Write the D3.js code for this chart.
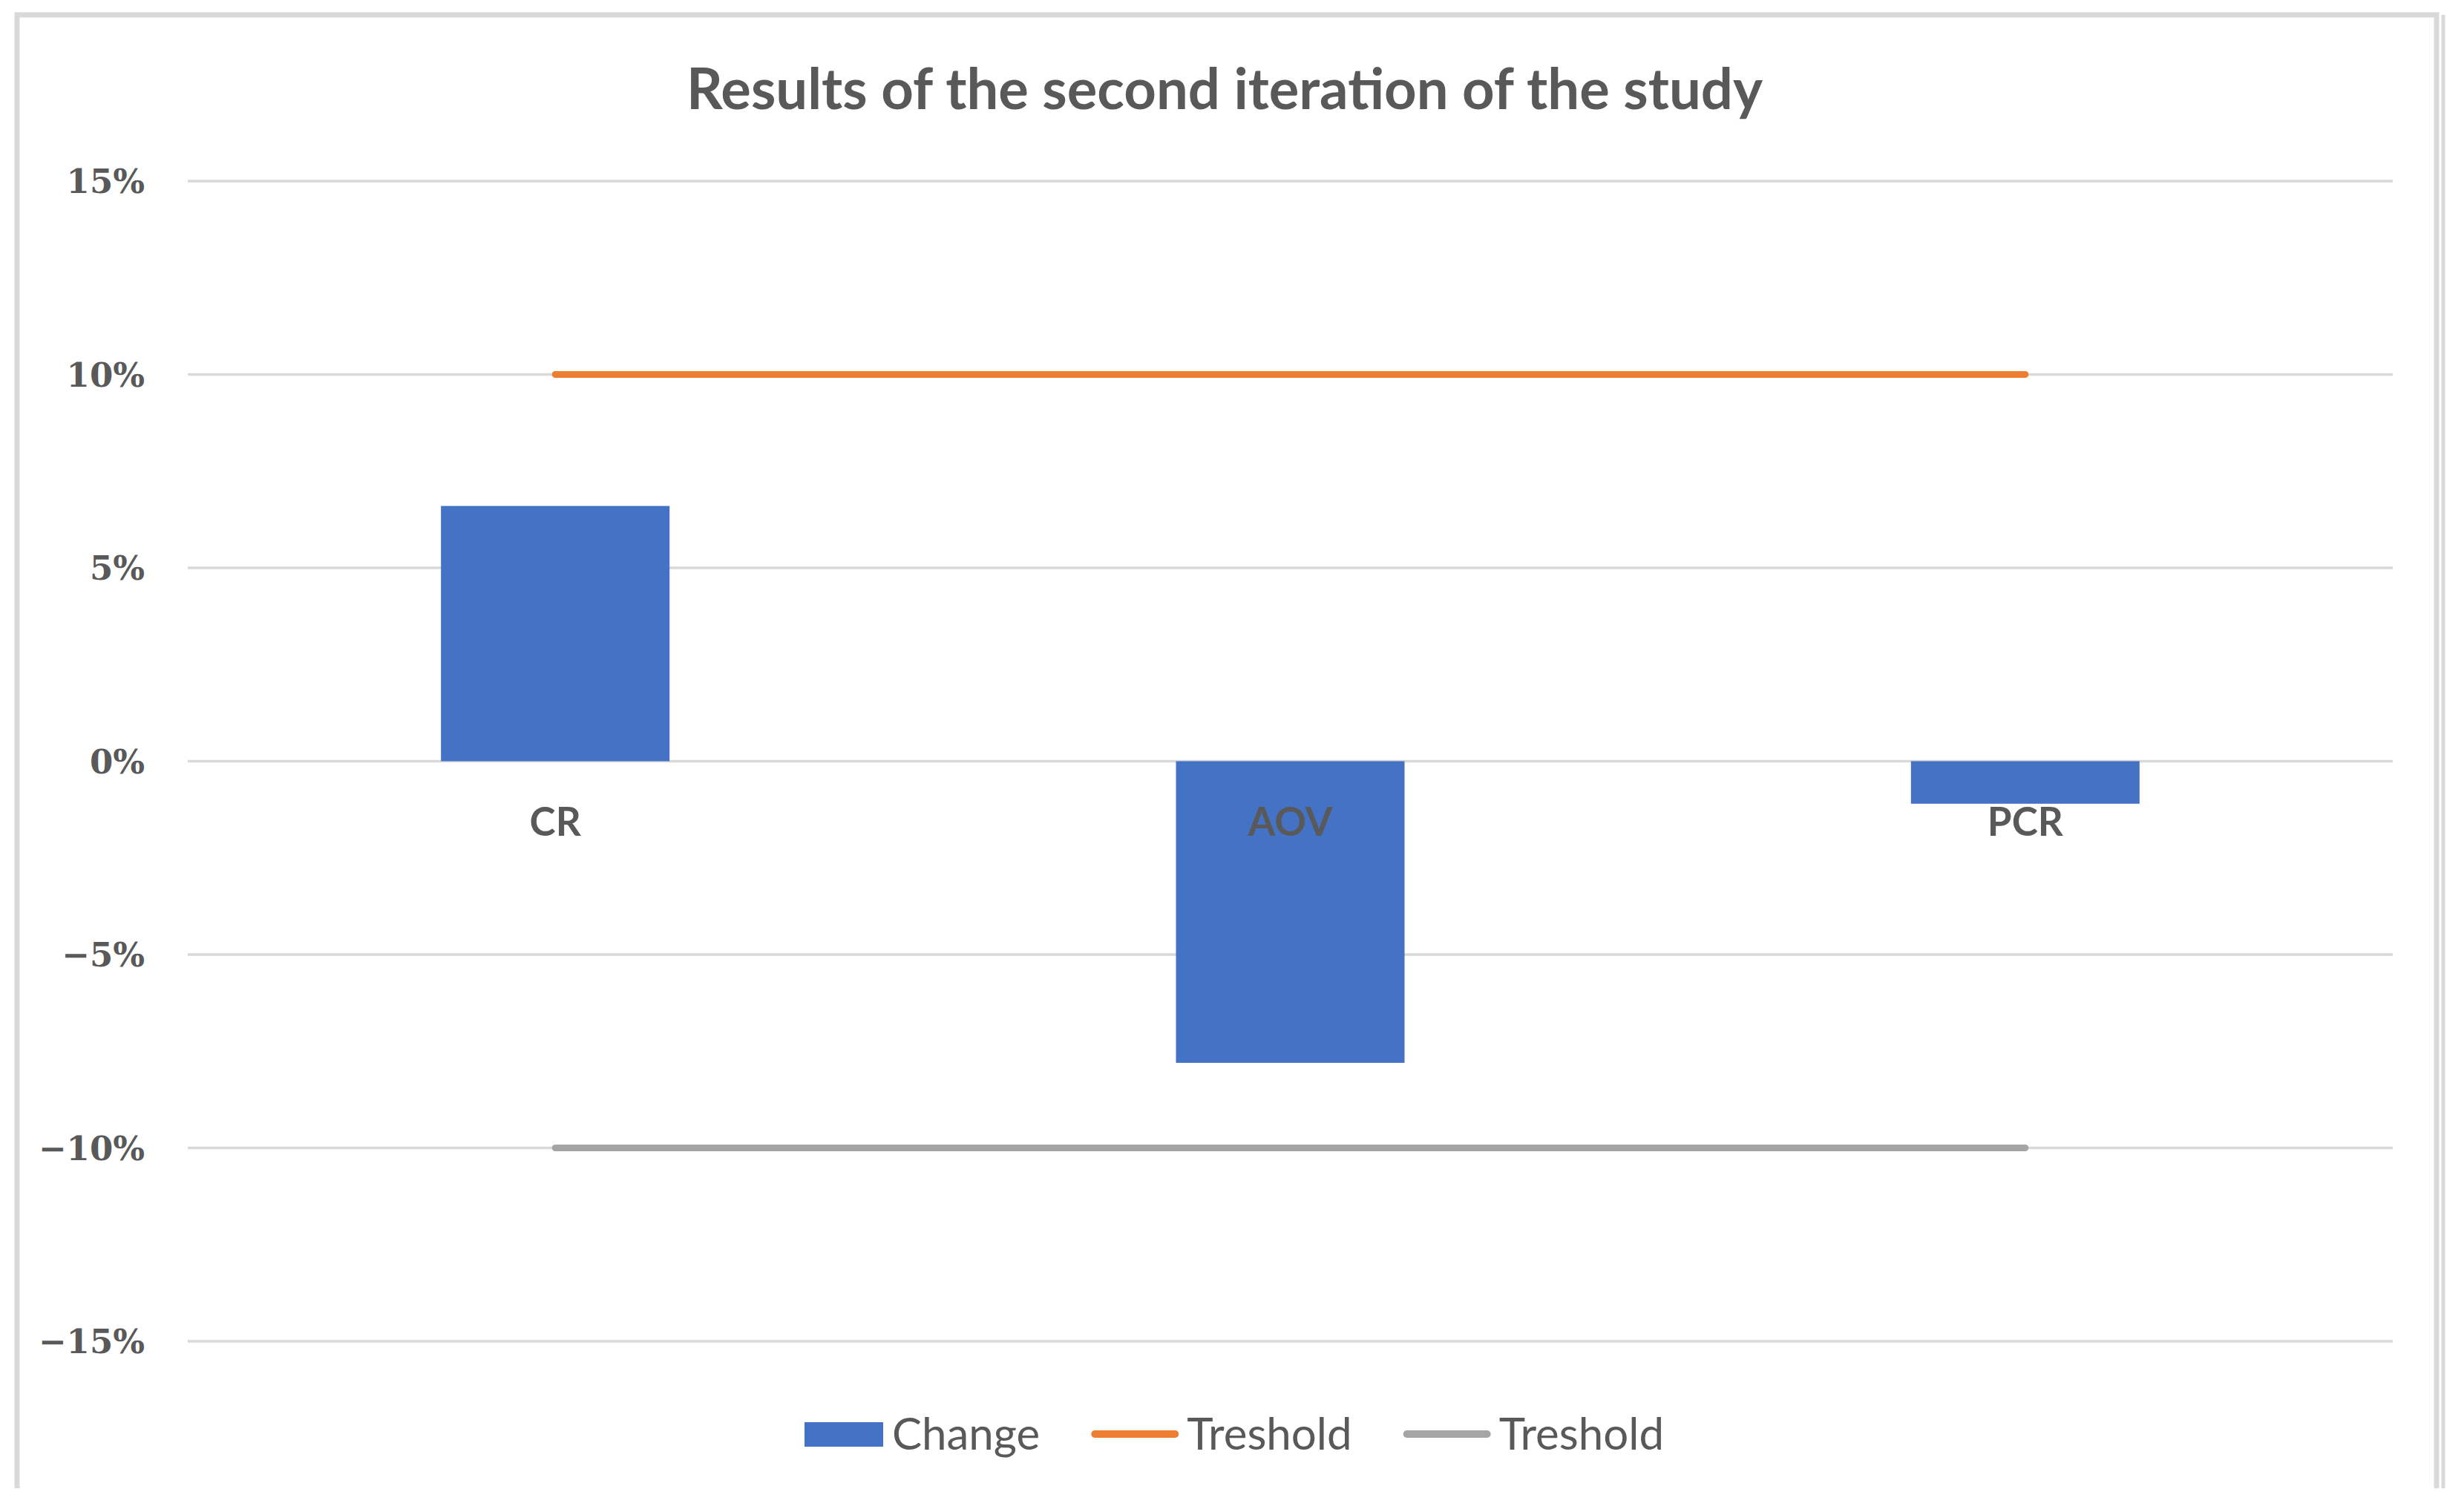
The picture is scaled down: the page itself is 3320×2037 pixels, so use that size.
<!DOCTYPE html>
<html><head><meta charset="utf-8">
<script src="https://cdn.jsdelivr.net/npm/d3@7"></script>
<style>body{margin:0;background:#fff;}svg{display:block;}</style>
</head><body>
<script>
const categories = ["CR", "AOV", "PCR"];
const changeValues = [0.066, -0.078, -0.011];
const upperThreshold = [0.10, 0.10, 0.10];
const lowerThreshold = [-0.10, -0.10, -0.10];
const yTicks = [-0.15, -0.10, -0.05, 0, 0.05, 0.10, 0.15];
const seriesNames = ["Change", "Treshold", "Treshold"];
const title = "Results of the second iteration of the study";

const W = 3320, H = 2037;
const svg = d3.select("body").append("svg").attr("width", W).attr("height", H);
svg.append("rect").attr("width", W).attr("height", H).attr("fill", "#fff");

// outer frame (left, top, right)
svg.append("path").attr("d", "M23,2005 L23,20 L3283,20 L3283,2005")
  .attr("fill", "none").attr("stroke", "#d9d9d9").attr("stroke-width", 7);
svg.append("line").attr("x1", 3292).attr("x2", 3292).attr("y1", 20).attr("y2", 2005)
  .attr("stroke", "#d9d9d9").attr("stroke-width", 5);

const x = d3.scaleBand().domain(categories).range([253, 3224]).paddingInner(0.689).paddingOuter(0.3445);
const y = d3.scaleLinear().domain([-0.15, 0.15]).range([1807, 244]);
const fmt = d3.format(".0%");
const grey = "#595959";

// gridlines
svg.append("g").selectAll("line").data(yTicks).join("line")
  .attr("x1", 253).attr("x2", 3224)
  .attr("y1", d => y(d)).attr("y2", d => y(d))
  .attr("stroke", "#d9d9d9").attr("stroke-width", 3.5);

// y tick labels
svg.append("g").selectAll("text").data(yTicks).join("text")
  .attr("x", 195).attr("y", d => y(d)).attr("dy", "0.36em")
  .attr("text-anchor", "end")
  .attr("font-family", "'DejaVu Serif', serif").attr("font-weight", "bold").attr("font-size", 45)
  .attr("fill", grey).text(d => fmt(d));

// bars
svg.append("g").selectAll("rect").data(categories).join("rect")
  .attr("x", d => x(d))
  .attr("width", x.bandwidth())
  .attr("y", (d, i) => y(Math.max(0, changeValues[i])))
  .attr("height", (d, i) => Math.abs(y(changeValues[i]) - y(0)))
  .attr("fill", "#4472c4");

// threshold lines
const line = d3.line().x((d, i) => x(categories[i]) + x.bandwidth() / 2).y(d => y(d));
svg.append("path").attr("d", line(upperThreshold)).attr("fill", "none")
  .attr("stroke", "#ed7d31").attr("stroke-width", 9).attr("stroke-linecap", "round");
svg.append("path").attr("d", line(lowerThreshold)).attr("fill", "none")
  .attr("stroke", "#a5a5a5").attr("stroke-width", 9).attr("stroke-linecap", "round");

// category labels
svg.append("g").selectAll("text").data(categories).join("text")
  .attr("x", d => x(d) + x.bandwidth() / 2).attr("y", 1107).attr("dy", "0.35em")
  .attr("text-anchor", "middle")
  .attr("font-family", "Lato, 'Open Sans', sans-serif").attr("font-weight", "bold").attr("font-size", 53)
  .attr("fill", grey).text(d => d);

// title
svg.append("text").attr("x", 1650).attr("y", 120).attr("dy", "0.35em")
  .attr("text-anchor", "middle")
  .attr("font-family", "Lato, 'Open Sans', sans-serif").attr("font-weight", "bold").attr("font-size", 76)
  .attr("fill", grey).text(title);

// legend
const lg = svg.append("g");
const items = [
  {name: seriesNames[0], type: "rect", color: "#4472c4"},
  {name: seriesNames[1], type: "line", color: "#ed7d31"},
  {name: seriesNames[2], type: "line", color: "#a5a5a5"}
];
const ly = 1932;
const parts = [];
items.forEach((it, i) => {
  const g = lg.append("g");
  let sw;
  if (it.type === "rect") {
    g.append("rect").attr("x", 0).attr("y", ly - 16).attr("width", 106).attr("height", 33).attr("fill", it.color);
    sw = 106;
  } else {
    g.append("line").attr("x1", 4).attr("x2", 112).attr("y1", ly).attr("y2", ly)
      .attr("stroke", it.color).attr("stroke-width", 10).attr("stroke-linecap", "round");
    sw = 116;
  }
  const t = g.append("text").attr("x", sw + 12).attr("y", ly).attr("dy", "0.35em")
    .attr("font-family", "Lato, 'Open Sans', sans-serif").attr("font-size", 60)
    .attr("fill", grey).text(it.name);
  const w = sw + 12 + t.node().getComputedTextLength();
  parts.push({g, w});
});
const gap = 70;
const total = d3.sum(parts, p => p.w) + gap * (parts.length - 1);
let px = 1663 - total / 2;
parts.forEach(p => { p.g.attr("transform", `translate(${px},0)`); px += p.w + gap; });
</script>
</body></html>
